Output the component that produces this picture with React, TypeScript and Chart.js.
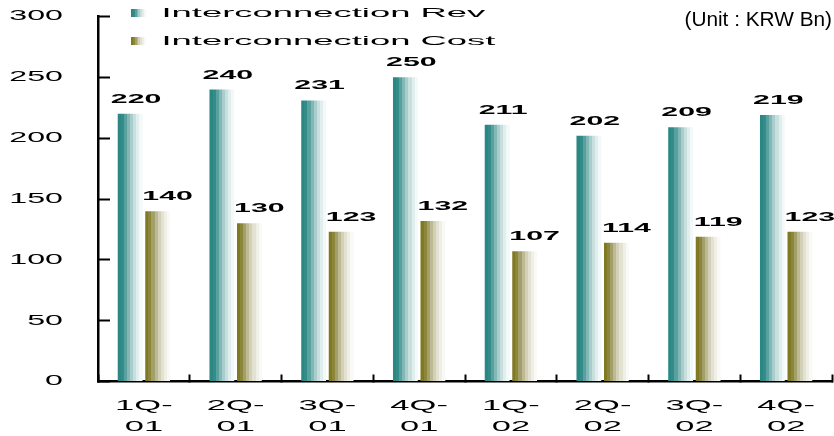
import React, { useEffect, useRef } from 'react';
import { Chart, registerables } from 'chart.js';

Chart.register(...registerables);

// ---------- data ----------
const CATEGORIES = [
  ['1Q-', '01'], ['2Q-', '01'], ['3Q-', '01'], ['4Q-', '01'],
  ['1Q-', '02'], ['2Q-', '02'], ['3Q-', '02'], ['4Q-', '02'],
];
const REV = [220, 240, 231, 250, 211, 202, 209, 219];
const COST = [140, 130, 123, 132, 107, 114, 119, 123];
const SERIES_NAMES = ['Interconnection Rev', 'Interconnection Cost'];
const Y_TICKS = [0, 50, 100, 150, 200, 250, 300];
const UNIT_LABEL = '(Unit : KRW Bn)';

// ---------- style ----------
const FAMILY = "'Liberation Sans', Arial, sans-serif";
const TEAL_BANDS = ['#2a8783', '#338c88', '#59a19e', '#83b7b5', '#a9cdcc', '#c8dfde', '#e1eeee', '#f3f8f8'];
const OLIVE_BANDS = ['#7f7924', '#8b8639', '#a39f6b', '#bcb993', '#d2d0b6', '#e3e2d2', '#f0efe7', '#f9f9f5'];
const CAT_PCT = 0.6;
const BAR_PCT = 0.9;
const LABEL_SHIFT = [6, 10];
const Y_AXIS_WIDTH = 88.5;
const X_AXIS_HEIGHT = 54.5;

function stretchFor(font: string): number {
  const m = /(\d+(?:\.\d+)?)px/.exec(font);
  const size = m ? parseFloat(m[1]) : 12;
  if (/bold|[6-9]00/.test(font)) return 2.33;
  if (size === 13) return 2.8;
  if (size === 14) return 2.3;
  if (size === 15) return 2.3;
  return 1.04;
}

function patchContext(ctx: any) {
  if (ctx.__stretched) return;
  ctx.__stretched = true;
  const origFill = ctx.fillText.bind(ctx);
  const origMeasure = ctx.measureText.bind(ctx);
  ctx.fillText = (text: string, x: number, y: number, maxWidth?: number) => {
    const s = stretchFor(ctx.font);
    ctx.save();
    ctx.translate(x, y);
    ctx.scale(s, 1);
    if (maxWidth === undefined || maxWidth === null) origFill(text, 0, 0);
    else origFill(text, 0, 0, maxWidth / s);
    ctx.restore();
  };
  ctx.measureText = (text: string) => {
    const m = origMeasure(text);
    const s = stretchFor(ctx.font);
    return {
      width: m.width * s,
      actualBoundingBoxLeft: m.actualBoundingBoxLeft * s,
      actualBoundingBoxRight: m.actualBoundingBoxRight * s,
      actualBoundingBoxAscent: m.actualBoundingBoxAscent,
      actualBoundingBoxDescent: m.actualBoundingBoxDescent,
      fontBoundingBoxAscent: m.fontBoundingBoxAscent,
      fontBoundingBoxDescent: m.fontBoundingBoxDescent,
    };
  };
}

function bandGradient(ctx: CanvasRenderingContext2D, x0: number, w: number, bands: string[]) {
  const g = ctx.createLinearGradient(x0, 0, x0 + w, 0);
  const n = bands.length;
  bands.forEach((c, i) => {
    g.addColorStop(i / n, c);
    g.addColorStop(Math.min(1, (i + 1) / n - 0.0001), c);
  });
  return g;
}

function barFill(bands: string[]) {
  return (c: any) => {
    const chart = c.chart;
    const xs = chart.scales && chart.scales.x;
    if (c.type !== 'data' || !xs) return bands[0];
    const count = chart.data.datasets.length;
    const center = xs.getPixelForValue(c.dataIndex);
    const cat = xs.width / CATEGORIES.length;
    const group = cat * CAT_PCT;
    const slot = group / count;
    const start = center - group / 2 + c.datasetIndex * slot + (slot * (1 - BAR_PCT)) / 2;
    return bandGradient(chart.ctx, start, slot * BAR_PCT, bands);
  };
}

function legendIcon(bands: string[]) {
  const cv = document.createElement('canvas');
  cv.width = 24;
  cv.height = 8;
  const cx = cv.getContext('2d')!;
  cx.fillStyle = bandGradient(cx, 0, 15, bands);
  cx.fillRect(0, 0, 15, 8);
  return cv;
}

const valueLabels = {
  id: 'valueLabels',
  afterDatasetsDraw(chart: any) {
    const ctx = chart.ctx;
    ctx.save();
    ctx.font = `bold 13px ${FAMILY}`;
    ctx.fillStyle = '#000';
    ctx.textAlign = 'center';
    ctx.textBaseline = 'alphabetic';
    chart.data.datasets.forEach((ds: any, di: number) => {
      const meta = chart.getDatasetMeta(di);
      meta.data.forEach((el: any, i: number) => {
        ctx.fillText(String(ds.data[i]), el.x + LABEL_SHIFT[di], el.y - 11);
      });
    });
    ctx.restore();
  },
};

const legendPlacement = {
  id: 'legendPlacement',
  afterLayout(chart: any) {
    const l = chart.legend;
    if (!l) return;
    l.left = chart.chartArea.left + 18;
    l.right = l.left + l.width;
    l.top = chart.chartArea.top - 24.7;
    l.bottom = l.top + l.height;
  },
};

export default function App() {
  const ref = useRef<HTMLCanvasElement>(null);
  useEffect(() => {
    document.body.style.margin = '0';
    const canvas = ref.current!;
    const ctx = canvas.getContext('2d')!;
    patchContext(ctx);
    const icons = [legendIcon(TEAL_BANDS), legendIcon(OLIVE_BANDS)];
    const chart = new Chart(canvas, {
      type: 'bar',
      data: {
        labels: CATEGORIES,
        datasets: [
          { label: SERIES_NAMES[0], data: REV, backgroundColor: barFill(TEAL_BANDS), borderWidth: 0 },
          { label: SERIES_NAMES[1], data: COST, backgroundColor: barFill(OLIVE_BANDS), borderWidth: 0 },
        ],
      },
      options: {
        responsive: false,
        animation: false,
        devicePixelRatio: 1,
        categoryPercentage: CAT_PCT,
        barPercentage: BAR_PCT,
        layout: { padding: { left: 9.5, right: 2, top: 0, bottom: 0 } },
        scales: {
          x: {
            offset: true,
            afterFit: (s: any) => {
              s.height = X_AXIS_HEIGHT;
              s.paddingLeft = 0;
              s.paddingRight = 0;
            },
            grid: {
              display: true,
              drawOnChartArea: false,
              drawTicks: true,
              tickLength: -7,
              tickWidth: 2,
              tickColor: '#000',
              offset: true,
            },
            border: { display: true, color: '#000', width: 2.5 },
            ticks: {
              color: '#000',
              font: { size: 15, family: FAMILY, lineHeight: 1.4 },
              padding: 20.5,
              maxRotation: 0,
              autoSkip: false,
            },
          },
          y: {
            min: Y_TICKS[0],
            max: Y_TICKS[Y_TICKS.length - 1],
            afterFit: (s: any) => {
              s.width = Y_AXIS_WIDTH;
              s.paddingTop = 0;
              s.paddingBottom = 0;
            },
            ticks: {
              stepSize: Y_TICKS[1] - Y_TICKS[0],
              color: '#000',
              font: { size: 14, family: FAMILY },
              padding: 47,
            },
            grid: {
              drawOnChartArea: false,
              tickLength: -12,
              tickWidth: 2,
              tickColor: '#000',
            },
            border: { display: true, color: '#000', width: 2.5 },
          },
        },
        plugins: {
          title: {
            display: true,
            text: UNIT_LABEL,
            align: 'end',
            color: '#000',
            font: { size: 20, family: FAMILY, weight: 'normal', lineHeight: 1 },
            padding: { top: 10, bottom: -13.5 },
          },
          legend: {
            position: 'chartArea' as any,
            align: 'start',
            fullSize: false,
            labels: {
              usePointStyle: true,
              pointStyleWidth: 24,
              color: '#000',
              font: { size: 13, family: FAMILY },
              padding: 15,
              generateLabels: (ch: any) =>
                ch.data.datasets.map((ds: any, i: number) => ({
                  text: ds.label,
                  fillStyle: 'transparent',
                  strokeStyle: 'transparent',
                  lineWidth: 0,
                  pointStyle: icons[i],
                  datasetIndex: i,
                  hidden: false,
                  fontColor: '#000',
                })),
            },
          },
          tooltip: { enabled: false },
        },
      },
      plugins: [valueLabels, legendPlacement],
    } as any);
    return () => chart.destroy();
  }, []);
  return (
    <div style={{ width: 834, height: 436 }}>
      <canvas ref={ref} width={834} height={436} style={{ display: 'block', width: 834, height: 436 }} />
    </div>
  );
}
